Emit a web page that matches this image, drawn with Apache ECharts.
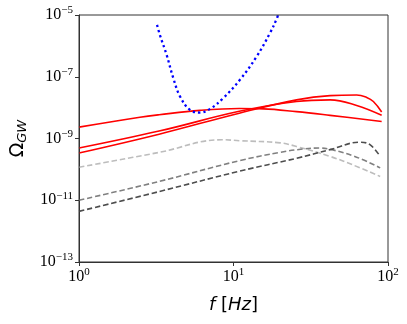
<!DOCTYPE html>
<html><head><meta charset="utf-8">
<script src="https://cdn.jsdelivr.net/npm/echarts@6/dist/echarts.min.js"></script>
<style>html,body{margin:0;padding:0;background:#fff}#c{width:407px;height:324px}</style>
</head><body><div id="c"></div>
<script>
// Frequencies [Hz] and Omega_GW values
const blueF = [3.2, 3.34, 3.69, 4.08, 4.51, 5.22, 6.07, 7.05, 8.59, 11.0, 14.1, 17.2, 19.1, 19.4];
const blueO = [4.79e-6, 2.24e-6, 5.13e-7, 8.91e-8, 2.29e-8, 8.51e-9, 6.92e-9, 9.12e-9, 2.04e-8, 7.94e-8, 4.47e-7, 2.57e-6, 7.76e-6, 1e-5];

const redAF = [1, 2.48, 3.3, 6.07, 10.9, 15.6, 25.6, 42.2, 91];
const redAO = [2.34e-9, 4.9e-9, 5.89e-9, 8.13e-9, 9.33e-9, 9.12e-9, 7.41e-9, 5.62e-9, 3.55e-9];
const redBF = [1, 3.3, 10.9, 25.6, 42.2, 62.7, 91];
const redBO = [4.9e-10, 1.74e-9, 7.59e-9, 1.58e-8, 1.78e-8, 1.17e-8, 5.62e-9];
const redCF = [1, 3.3, 10.9, 25.6, 42.2, 62.7, 72.8, 80.4, 91];
const redCO = [3.39e-10, 1.38e-9, 6.61e-9, 1.78e-8, 2.45e-8, 2.57e-8, 2.14e-8, 1.58e-8, 7.24e-9];

const lightF = [1, 3.3, 8.43, 10.9, 20.0, 25.6, 42.2, 58.9, 89];
const lightO = [1.17e-10, 3.55e-10, 9.12e-10, 8.5e-10, 7.24e-10, 5.5e-10, 2.63e-10, 1.41e-10, 5.9e-11];
const midF = [1, 3.3, 10.9, 20.0, 28.2, 36.3, 42.2, 60.3, 89];
const midO = [1.0e-11, 4.07e-11, 1.91e-10, 3.55e-10, 4.57e-10, 4.9e-10, 4.47e-10, 2.69e-10, 1.12e-10];
const darkF = [1, 3.3, 10.9, 25.6, 42.2, 65.9, 76.4, 89];
const darkO = [4.37e-12, 1.91e-11, 8.71e-11, 2.29e-10, 4.37e-10, 7.59e-10, 6.31e-10, 2.63e-10];

const xTicks = [1, 10, 100];
const yTicks = [1e-13, 1e-11, 1e-9, 1e-7, 1e-5];

const pairs = (f, o) => f.map((v, i) => [v, o[i]]);
const expLabel = v => {
  const e = Math.round(Math.log10(v));
  return '{b|10}{e|' + String(e).replace('-', '\u2212') + '}';
};
const tickRich = {
  b: {fontFamily: 'Liberation Serif', fontSize: 16, color: '#000', lineHeight: 20},
  e: {fontFamily: 'Liberation Serif', fontSize: 11, color: '#000', verticalAlign: 'top', lineHeight: 12}
};

const chart = echarts.init(document.getElementById('c'), null, {renderer: 'canvas'});
const lineBase = {type: 'line', showSymbol: false, symbol: 'none', smooth: 0.4, animation: false};
chart.setOption({
  animation: false,
  grid: {left: 79, right: 19, top: 15, bottom: 62, containLabel: false, outerBoundsMode: 'none'},
  xAxis: {
    type: 'log', logBase: 10, min: 1, max: 100,
    axisLine: {show: true, lineStyle: {color: '#333', width: 1}},
    axisTick: {show: true, inside: false, length: 4, lineStyle: {color: '#333'}, customValues: xTicks},
    axisLabel: {margin: 5, formatter: expLabel, rich: tickRich, customValues: xTicks},
    splitLine: {show: false}, minorTick: {show: false},
    name: '{i|f} [{i|Hz}]', nameLocation: 'middle', nameGap: 34,
    nameTextStyle: {fontFamily: 'DejaVu Sans', fontSize: 18, color: '#000',
      rich: {i: {fontFamily: 'DejaVu Sans', fontStyle: 'italic', fontSize: 18, color: '#000'}}}
  },
  yAxis: {
    type: 'log', logBase: 10, min: 1e-13, max: 1e-5,
    axisLine: {show: true, lineStyle: {color: '#333', width: 1}},
    axisTick: {show: true, inside: false, length: 4, lineStyle: {color: '#333'}, customValues: yTicks},
    axisLabel: {margin: 6, formatter: expLabel, rich: tickRich, customValues: yTicks},
    splitLine: {show: false}, minorTick: {show: false},
    name: '{o|\u03A9}{s|GW}', nameLocation: 'middle', nameRotate: 90, nameGap: 44,
    nameTextStyle: {fontFamily: 'DejaVu Sans', fontSize: 18, color: '#000',
      rich: {o: {fontFamily: 'DejaVu Sans', fontSize: 19, color: '#000', lineHeight: 22},
             s: {fontFamily: 'DejaVu Sans', fontStyle: 'italic', fontSize: 13, color: '#000', verticalAlign: 'bottom', lineHeight: 14}}}
  },
  series: [
    Object.assign({}, lineBase, {name: 'light', data: pairs(lightF, lightO), lineStyle: {color: '#bdbdbd', width: 1.6, type: [5.5, 2.8]}}),
    Object.assign({}, lineBase, {name: 'mid', data: pairs(midF, midO), lineStyle: {color: '#808080', width: 1.6, type: [5.5, 2.8]}}),
    Object.assign({}, lineBase, {name: 'dark', data: pairs(darkF, darkO), lineStyle: {color: '#4d4d4d', width: 1.6, type: [5.5, 2.8]}}),
    Object.assign({}, lineBase, {name: 'redA', data: pairs(redAF, redAO), lineStyle: {color: '#ff0000', width: 1.6}}),
    Object.assign({}, lineBase, {name: 'redB', data: pairs(redBF, redBO), lineStyle: {color: '#ff0000', width: 1.6}}),
    Object.assign({}, lineBase, {name: 'redC', data: pairs(redCF, redCO), lineStyle: {color: '#ff0000', width: 1.6}}),
    Object.assign({}, lineBase, {name: 'blue', data: pairs(blueF, blueO), lineStyle: {color: '#0000ff', width: 2.3, type: [2.3, 3.0], cap: 'butt'}})
  ]
});
</script>
<script>
// draw the frame (top/right spines) using the grid's own rect
(function(){
  const chart = echarts.getInstanceByDom(document.getElementById('c'));
  const gridRect = chart.getModel().getComponent('grid').coordinateSystem.getRect();
  chart.setOption({graphic: [{type: 'rect', silent: true, z: 100,
    shape: {x: gridRect.x, y: gridRect.y, width: gridRect.width, height: gridRect.height},
    style: {fill: 'none', stroke: '#333', lineWidth: 1}}]});
})();
</script>
</body></html>
